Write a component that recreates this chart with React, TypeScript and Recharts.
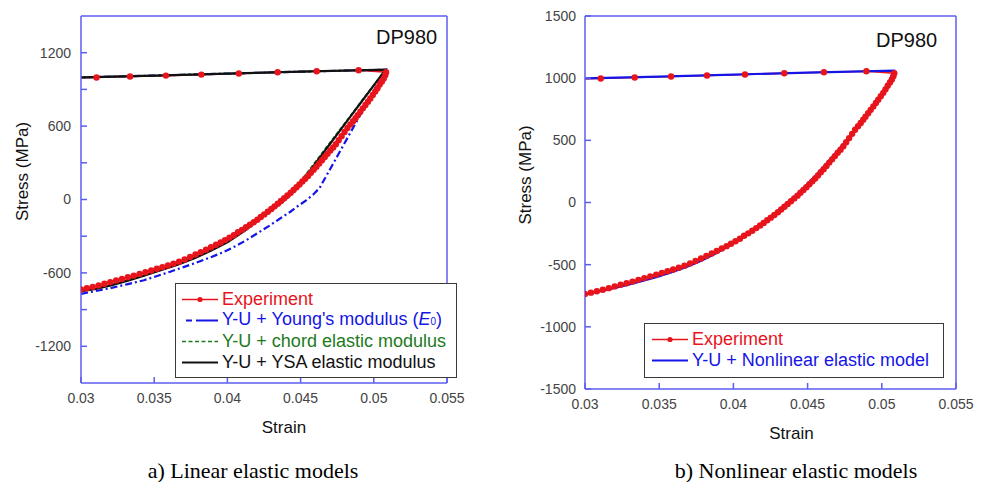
import React from "react";
import { LineChart, Line, XAxis, YAxis, Label } from "recharts";

const FRAME = "#5c5cf0";
const TICK = "#444444";
const RED = "#e8141c";
const BLUE = "#1515e6";
const GREEN = "#1d7a1d";
const BLACK = "#111111";
const SANS = '"Liberation Sans", Arial, sans-serif';

// shared axis ticks
const xTicks = [0.03, 0.035, 0.04, 0.045, 0.05, 0.055];
const leftYTicks = [-1200, -900, -600, -300, 0, 300, 600, 900, 1200];
const rightYTicks = [-1500, -1000, -500, 0, 500, 1000, 1500];

// experiment: [strain, stress MPa]
const expLoading: [number, number][] = [
  [0.0295, 994], [0.03106, 997], [0.03335, 1005], [0.0358, 1013], [0.03822, 1021],
  [0.04078, 1030], [0.04343, 1040], [0.0461, 1048], [0.04896, 1056],
];
const expUnloading: [number, number][] = [
  [0.05084, 1040], [0.05078, 1015], [0.05068, 990], [0.05055, 965], [0.0504, 940],
  [0.05025, 910], [0.0501, 882], [0.04993, 855], [0.04976, 826], [0.0496, 800],
  [0.04943, 772], [0.04925, 745], [0.04908, 718], [0.0489, 690], [0.04875, 665],
  [0.04858, 640], [0.0484, 614], [0.0482, 585], [0.048, 552], [0.0478, 518],
  [0.0476, 484], [0.04741, 452], [0.04722, 425], [0.04703, 400], [0.04684, 373],
  [0.04665, 347], [0.04646, 321], [0.04627, 294], [0.04608, 268], [0.04589, 243],
  [0.0457, 218], [0.04551, 193], [0.04532, 170], [0.04512, 147], [0.04492, 123],
  [0.04472, 100], [0.04452, 78], [0.04432, 55], [0.0441, 33], [0.04388, 10],
  [0.04366, -12], [0.04344, -34], [0.04322, -56], [0.043, -78], [0.04276, -100],
  [0.04252, -122], [0.04228, -143], [0.04204, -165], [0.0418, -185], [0.04154, -206],
  [0.04127, -227], [0.041, -248], [0.04072, -268], [0.04044, -292], [0.04014, -312],
  [0.03984, -332], [0.03954, -351], [0.03922, -370], [0.03888, -390], [0.03854, -410],
  [0.03818, -430], [0.03782, -450], [0.03745, -470], [0.03708, -490], [0.0367, -508],
  [0.03632, -524], [0.03594, -539], [0.03556, -553], [0.03518, -566], [0.0348, -580],
  [0.0344, -594], [0.034, -608], [0.0336, -622], [0.0332, -636], [0.0328, -649],
  [0.0324, -662], [0.032, -675], [0.0316, -689], [0.0312, -702], [0.0308, -714],
  [0.0304, -725], [0.03, -735],
];

// Y-U model, tension branch (same for all models)
const modelLoading: [number, number][] = [
  [0.0295, 996], [0.035, 1013], [0.04, 1029], [0.045, 1045], [0.0508, 1061],
];
const youngUnloading: [number, number][] = [
  [0.05, 890], [0.0492, 718], [0.0484, 546], [0.0476, 374], [0.0468, 202],
  [0.0463, 95], [0.0459, 45], [0.0454, -5], [0.0448, -55], [0.0443, -100],
  [0.0436, -155], [0.0429, -212], [0.0421, -272], [0.0413, -332], [0.0405, -385],
  [0.0397, -432], [0.0388, -475], [0.0379, -515], [0.037, -553], [0.0361, -590],
  [0.0352, -625], [0.0343, -660], [0.0332, -692], [0.0321, -722], [0.031, -748],
  [0.03, -772],
];
const chordUnloading: [number, number][] = [
  [0.05, 935], [0.0492, 810], [0.0484, 684], [0.0476, 558], [0.0468, 432],
  [0.046, 306], [0.0453, 196], [0.0447, 100], [0.0442, 38], [0.0436, -25],
  [0.0429, -92], [0.0421, -165], [0.0412, -248], [0.04, -345], [0.0389, -413],
  [0.0378, -474], [0.0366, -530], [0.0355, -573], [0.0343, -620], [0.0332, -661],
  [0.0321, -698], [0.031, -728], [0.03, -748],
];
const ysaUnloading: [number, number][] = [
  [0.05, 933], [0.0492, 805], [0.0484, 677], [0.0476, 549], [0.0468, 421],
  [0.046, 293], [0.0453, 181], [0.0447, 85], [0.0442, 25], [0.0436, -35],
  [0.0429, -100], [0.0421, -170], [0.0412, -255], [0.04, -350], [0.0389, -417],
  [0.0378, -478], [0.0366, -533], [0.0355, -575], [0.0343, -622], [0.0332, -663],
  [0.0321, -700], [0.031, -730], [0.03, -750],
];
const nonlinearUnloading: [number, number][] = [
  [0.0505, 975], [0.05, 880], [0.0494, 775], [0.0487, 662], [0.048, 555],
  [0.0472, 440], [0.0463, 318], [0.0454, 198], [0.0445, 90], [0.0436, -5],
  [0.0427, -95], [0.0418, -185], [0.0408, -268], [0.0398, -343], [0.0388, -410],
  [0.0378, -470], [0.0368, -520], [0.0358, -562], [0.0348, -600], [0.0338, -633],
  [0.0328, -665], [0.0318, -694], [0.0309, -718], [0.03, -740],
];

const toData = (...parts: [number, number][][]) =>
  parts.flat().map(([strain, stress]) => ({ strain, stress }));

const expData = toData(expLoading, expUnloading);
const youngData = toData(modelLoading, youngUnloading);
const chordData = toData(modelLoading, chordUnloading);
const ysaData = toData(modelLoading, ysaUnloading);
const nonlinearData = toData(modelLoading, nonlinearUnloading);

const tickStyle = { fill: TICK, fontSize: 14, fontFamily: SANS };
const fmtLeftY = (v: number) => (v % 600 === 0 ? String(v) : "");

function LegendSample({ kind }: { kind: string }) {
  return (
    <svg width={36} height={21} style={{ display: "block", flex: "none" }}>
      {kind === "exp" && (
        <>
          <line x1={0} y1={10.5} x2={36} y2={10.5} stroke={RED} strokeWidth={1.6} />
          <circle cx={18} cy={10.5} r={2.6} fill={RED} />
        </>
      )}
      {kind === "young" && (
        <line x1={4} y1={10.5} x2={36} y2={10.5} stroke={BLUE} strokeWidth={2} strokeDasharray="6 4 22" />
      )}
      {kind === "chord" && (
        <line x1={0} y1={10.5} x2={36} y2={10.5} stroke={GREEN} strokeWidth={1.6} strokeDasharray="4 2.5" />
      )}
      {kind === "solid-black" && <line x1={0} y1={10.5} x2={36} y2={10.5} stroke={BLACK} strokeWidth={1.8} />}
      {kind === "solid-blue" && <line x1={0} y1={10.5} x2={36} y2={10.5} stroke={BLUE} strokeWidth={2} />}
    </svg>
  );
}

function LegendRow({ kind, color, children }: { kind: string; color: string; children: React.ReactNode }) {
  return (
    <div style={{ display: "flex", alignItems: "center", height: 21 }}>
      <LegendSample kind={kind} />
      <span style={{ marginLeft: 4, color, fontSize: 18, lineHeight: "21px", whiteSpace: "nowrap" }}>{children}</span>
    </div>
  );
}

const legendBox: React.CSSProperties = {
  position: "absolute",
  background: "#fff",
  border: "1.5px solid #3a3a3a",
  boxSizing: "border-box",
  paddingLeft: 6,
  paddingTop: 5,
  fontFamily: SANS,
};

const caption: React.CSSProperties = {
  position: "absolute",
  top: 460,
  width: 400,
  textAlign: "center",
  fontFamily: '"Liberation Serif", "Times New Roman", serif',
  fontSize: 22,
  lineHeight: "22px",
  color: "#000",
};

const dp980: React.CSSProperties = {
  position: "absolute",
  fontFamily: SANS,
  fontSize: 20,
  lineHeight: "20px",
  color: "#111",
};

export default function App() {
  return (
    <div style={{ position: "absolute", left: 0, top: 0, width: 985, height: 482, background: "#fff", fontFamily: SANS, overflow: "hidden" }}>
      {/* a) linear elastic models */}
      <div style={{ position: "absolute", left: 0, top: 0 }}>
        <LineChart width={480} height={450} margin={{ top: 15, right: 32, bottom: 12, left: 0 }}>
          <XAxis
            dataKey="strain"
            type="number"
            domain={[0.03, 0.055]}
            ticks={xTicks}
            allowDataOverflow
            height={55}
            stroke={FRAME}
            strokeWidth={1.5}
            tickSize={-6}
            tickMargin={16}
            tick={tickStyle}
          >
            <Label value="Strain" position="insideBottom" offset={5} dx={20} style={{ fontSize: 17, fill: "#111", fontFamily: SANS }} />
          </XAxis>
          <XAxis xAxisId="top" orientation="top" type="number" domain={[0.03, 0.055]} ticks={xTicks} allowDataOverflow height={1} stroke={FRAME} strokeWidth={1.5} tickSize={-6} tick={false} />
          <YAxis
            type="number"
            domain={[-1500, 1500]}
            ticks={leftYTicks}
            allowDataOverflow
            width={81}
            stroke={FRAME}
            strokeWidth={1.5}
            tickSize={-6}
            tickMargin={16}
            tick={tickStyle}
            tickFormatter={fmtLeftY}
          >
            <Label value="Stress (MPa)" angle={-90} position="center" dx={-18.5} dy={-28} style={{ fontSize: 17, fill: "#111", fontFamily: SANS, textAnchor: "middle" }} />
          </YAxis>
          <YAxis yAxisId="right" orientation="right" type="number" domain={[-1500, 1500]} ticks={leftYTicks} allowDataOverflow width={1} stroke={FRAME} strokeWidth={1.5} tickSize={-6} tick={false} />
          <Line data={expData} dataKey="stress" type="linear" stroke={RED} strokeWidth={1.6} dot={false} activeDot={false} isAnimationActive={false} />
          <Line data={youngData} dataKey="stress" type="linear" stroke={BLUE} strokeWidth={2.2} strokeDasharray="7 3 2 3" dot={false} activeDot={false} isAnimationActive={false} />
          <Line data={chordData} dataKey="stress" type="linear" stroke={GREEN} strokeWidth={1.8} strokeDasharray="4 2" dot={false} activeDot={false} isAnimationActive={false} />
          <Line data={ysaData} dataKey="stress" type="linear" stroke={BLACK} strokeWidth={2.2} dot={false} activeDot={false} isAnimationActive={false} />
          <Line data={expData} dataKey="stress" type="linear" stroke="none" dot={{ r: 3.2, fill: RED, stroke: RED, strokeWidth: 0 }} activeDot={false} isAnimationActive={false} />
        </LineChart>
      </div>
      <div style={{ ...dp980, left: 376, top: 27 }}>DP980</div>
      <div style={{ ...legendBox, left: 175, top: 283, width: 282, height: 95 }}>
        <LegendRow kind="exp" color={RED}>Experiment</LegendRow>
        <LegendRow kind="young" color={BLUE}>
          Y-U + Young's modulus (<i>E</i>
          <span style={{ fontSize: 10 }}>0</span>)
        </LegendRow>
        <LegendRow kind="chord" color={GREEN}>Y-U + chord elastic modulus</LegendRow>
        <LegendRow kind="solid-black" color={BLACK}>Y-U + YSA elastic modulus</LegendRow>
      </div>
      <div style={{ ...caption, left: 53 }}>a) Linear elastic models</div>

      {/* b) nonlinear elastic models */}
      <div style={{ position: "absolute", left: 500, top: 0 }}>
        <LineChart width={485} height={450} margin={{ top: 15, right: 28, bottom: 6, left: 0 }}>
          <XAxis
            dataKey="strain"
            type="number"
            domain={[0.03, 0.055]}
            ticks={xTicks}
            allowDataOverflow
            height={55}
            stroke={FRAME}
            strokeWidth={1.5}
            tickSize={-6}
            tickMargin={16}
            tick={tickStyle}
          >
            <Label value="Strain" position="insideBottom" offset={5} dx={21} style={{ fontSize: 17, fill: "#111", fontFamily: SANS }} />
          </XAxis>
          <XAxis xAxisId="top" orientation="top" type="number" domain={[0.03, 0.055]} ticks={xTicks} allowDataOverflow height={1} stroke={FRAME} strokeWidth={1.5} tickSize={-6} tick={false} />
          <YAxis
            type="number"
            domain={[-1500, 1500]}
            ticks={rightYTicks}
            allowDataOverflow
            width={85}
            stroke={FRAME}
            strokeWidth={1.5}
            tickSize={-6}
            tickMargin={15}
            tick={tickStyle}
          >
            <Label value="Stress (MPa)" angle={-90} position="center" dx={-17.5} dy={-27.5} style={{ fontSize: 17, fill: "#111", fontFamily: SANS, textAnchor: "middle" }} />
          </YAxis>
          <YAxis yAxisId="right" orientation="right" type="number" domain={[-1500, 1500]} ticks={rightYTicks} allowDataOverflow width={1} stroke={FRAME} strokeWidth={1.5} tickSize={-6} tick={false} />
          <Line data={expData} dataKey="stress" type="linear" stroke={RED} strokeWidth={1.6} dot={false} activeDot={false} isAnimationActive={false} />
          <Line data={nonlinearData} dataKey="stress" type="linear" stroke={BLUE} strokeWidth={2.2} dot={false} activeDot={false} isAnimationActive={false} />
          <Line data={expData} dataKey="stress" type="linear" stroke="none" dot={{ r: 3.2, fill: RED, stroke: RED, strokeWidth: 0 }} activeDot={false} isAnimationActive={false} />
        </LineChart>
      </div>
      <div style={{ ...dp980, left: 876, top: 30 }}>DP980</div>
      <div style={{ ...legendBox, left: 644, top: 323, width: 300, height: 55, paddingLeft: 7 }}>
        <LegendRow kind="exp" color={RED}>Experiment</LegendRow>
        <LegendRow kind="solid-blue" color={BLUE}>Y-U + Nonlinear elastic model</LegendRow>
      </div>
      <div style={{ ...caption, left: 596 }}>b) Nonlinear elastic models</div>
    </div>
  );
}
